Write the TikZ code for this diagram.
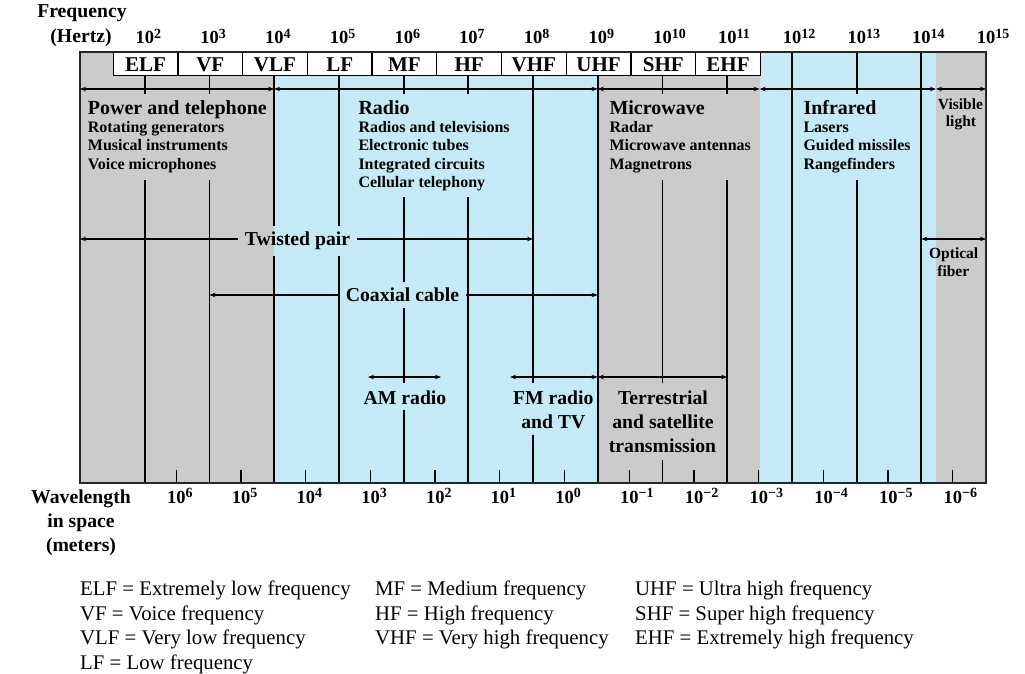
\documentclass[tikz,border=0pt]{standalone}
\usepackage{fontspec}
\setmainfont{Liberation Serif}
\usetikzlibrary{arrows.meta}
\definecolor{bgray}{RGB}{203,203,203}
\definecolor{bblue}{RGB}{198,233,248}
\newcommand\tenp[1]{10\raisebox{5.5pt}{\fontsize{14}{14}\selectfont #1}}
\begin{document}
\begin{tikzpicture}[x=1pt,y=-1pt,
 hd/.style={font=\bfseries\fontsize{20}{24}\selectfont, inner sep=0pt, anchor=base west},
 it/.style={font=\bfseries\fontsize{16}{18}\selectfont, inner sep=0pt, anchor=base west},
 num/.style={font=\bfseries\fontsize{18.5}{20}\selectfont, inner sep=0pt, anchor=base west},
 bandbox/.style={draw=black, line width=1.4pt, fill=white, font=\bfseries\fontsize{21}{24}\selectfont, minimum width=64.714pt, minimum height=23pt, inner sep=0pt, text height=13.9pt, text depth=0pt, anchor=north west},
 mid/.style={font=\bfseries\fontsize{19.7}{24}\selectfont, inner xsep=6.5pt, inner ysep=0pt, anchor=base},
 ctr/.style={font=\bfseries\fontsize{19.7}{24}\selectfont, inner sep=0pt, anchor=base},
 sm/.style={font=\bfseries\fontsize{15.5}{18}\selectfont, inner sep=0pt, anchor=base},
 leg/.style={font=\fontsize{20.8}{24}\selectfont, inner sep=0pt, anchor=base west},
 vline/.style={line width=1.8pt, black},
 tick/.style={line width=1.4pt, black},
 arr/.style={line width=1.1pt, -{Stealth[length=6pt,width=4.5pt]}},
 dbl/.style={line width=1.1pt, {Stealth[length=6pt,width=4.5pt]}-{Stealth[length=6pt,width=4.5pt]}}
]
\useasboundingbox (0,0) rectangle (1025,674);
% background bands
\fill[bgray] (80,52) rectangle (274.1,483);
\fill[bblue] (274.1,52) rectangle (597.7,483);
\fill[bgray] (597.7,52) rectangle (759.6,483);
\fill[bblue] (759.6,52) rectangle (936,483);
\fill[bgray] (936,52) rectangle (986,483);
% band boxes
\foreach \lab [count=\k, evaluate=\k as \xx using {80+(\k-1)*64.714+32.5}] in {ELF,VF,VLF,LF,MF,HF,VHF,UHF,SHF,EHF}
  \node[bandbox] (b\k) at (\xx,52) {\lab};
% decade lines
\draw[vline] (144.7,75) -- (144.7,94) (144.7,180) -- (144.7,483);
\draw[vline] (209.4,75) -- (209.4,94) (209.4,180) -- (209.4,483);
\draw[vline] (274.1,75) -- (274.1,226) (274.1,256) -- (274.1,483);
\draw[vline] (338.9,75) -- (338.9,226) (338.9,256) -- (338.9,483);
\draw[vline] (403.6,75) -- (403.6,94) (403.6,197) -- (403.6,282) (403.6,308) -- (403.6,383) (403.6,410) -- (403.6,483);
\draw[vline] (468.3,75) -- (468.3,94) (468.3,197) -- (468.3,483);
\draw[vline] (533.0,75) -- (533.0,383) (533.0,435) -- (533.0,483);
\draw[vline] (597.7,75) -- (597.7,483);
\draw[vline] (662.4,75) -- (662.4,94) (662.4,180) -- (662.4,383) (662.4,460) -- (662.4,483);
\draw[vline] (727.1,75) -- (727.1,94) (727.1,180) -- (727.1,483);
\draw[vline] (791.9,52) -- (791.9,483);
\draw[vline] (856.6,52) -- (856.6,94) (856.6,180) -- (856.6,483);
\draw[vline] (921.3,52) -- (921.3,483);
% wavelength ticks
\foreach \n [evaluate=\n as \xx using {80+(\n-1)*64.714+31.5}] in {2,...,14}
  \draw[tick] (\xx,470) -- (\xx,483);
% frame
\draw[line width=2.3pt, black!85] (80,52) rectangle (986,483);
% region arrows
\coordinate (r0) at (80,89);
\coordinate (r1) at (274.1,89);
\coordinate (r2) at (597.7,89);
\coordinate (r3) at (759.6,89);
\coordinate (r4) at (936,89);
\coordinate (r5) at (986,89);
\draw[dbl] (r0) -- (r1);
\draw[dbl] (r1) -- (r2);
\draw[dbl] (r2) -- (r3);
\draw[dbl] (r3) -- (r4);
\draw[dbl] (r4) -- (r5);
% region texts
\node[hd] (pt) at (87.7,115) {Power and telephone};
\node[it] (pt1) at (87.7,132.7) {Rotating generators};
\node[it] (pt2) at (87.7,150.7) {Musical instruments};
\node[it] (pt3) at (87.7,169) {Voice microphones};
\node[hd] (ra) at (358.3,115) {Radio};
\node[it] (ra1) at (358.3,132.7) {Radios and televisions};
\node[it] (ra2) at (358.3,150.7) {Electronic tubes};
\node[it] (ra3) at (358.3,169) {Integrated circuits};
\node[it] (ra4) at (358.3,187.3) {Cellular telephony};
\node[hd] (mw) at (609.3,115) {Microwave};
\node[it] (mw1) at (609.3,132.7) {Radar};
\node[it] (mw2) at (609.3,150.7) {Microwave antennas};
\node[it] (mw3) at (609.3,169) {Magnetrons};
\node[hd] (ir) at (803.3,115) {Infrared};
\node[it] (ir1) at (803.3,132.7) {Lasers};
\node[it] (ir2) at (803.3,150.7) {Guided missiles};
\node[it] (ir3) at (803.3,169) {Rangefinders};
\node[sm] (vl1) at (960.5,110) {Visible};
\node[sm] (vl2) at (961,127) {light};
% twisted pair
\node[mid] (tp) at (297.5,245) {Twisted pair};
\coordinate (tpA) at (80,239);
\coordinate (tpB) at (533,239);
\draw[arr] (tpA -| tp.west) -- (tpA);
\draw[arr] (tpB -| tp.east) -- (tpB);
% coaxial cable
\node[mid] (cc) at (402.5,301.7) {Coaxial cable};
\coordinate (ccA) at (209.4,295);
\coordinate (ccB) at (597.7,295);
\draw[arr] (ccA -| cc.west) -- (ccA);
\draw[arr] (ccB -| cc.east) -- (ccB);
% optical fiber
\coordinate (ofA) at (921.3,239);
\coordinate (ofB) at (986,239);
\draw[dbl] (ofA) -- (ofB);
\node[sm] (of1) at (953.7,258) {Optical};
\node[sm] (of2) at (953.3,276) {fiber};
% AM radio
\coordinate (amA) at (368,377);
\coordinate (amB) at (441,377);
\draw[dbl] (amA) -- (amB);
\node[ctr] (am) at (405,404) {AM radio};
% FM radio
\coordinate (fmA) at (510,377);
\coordinate (fmB) at (597.7,377);
\draw[dbl] (fmA) -- (fmB);
\node[ctr] (fm1) at (553.3,404) {FM radio};
\node[ctr] (fm2) at (553.3,428.5) {and TV};
% terrestrial
\coordinate (teA) at (597.7,377);
\coordinate (teB) at (727.1,377);
\draw[dbl] (teA) -- (teB);
\node[ctr] (te1) at (663,404) {Terrestrial};
\node[ctr] (te2) at (663,428.5) {and satellite};
\node[ctr] (te3) at (662.5,452.5) {transmission};
% axis titles
\node[ctr] (fq) at (82,17.5) {Frequency};
\node[ctr] (hz) at (81,43) {(Hertz)};
\node[ctr] (wl1) at (81,503) {Wavelength};
\node[ctr] (wl2) at (81,527) {in space};
\node[ctr] (wl3) at (81,551) {(meters)};
% frequency numbers
\foreach \n [evaluate=\n as \xx using {80+(\n-1)*64.714-9.25}] in {2,...,15}
  \node[num] (f\n) at (\xx,44) {\tenp{\n}};
% wavelength numbers
\foreach \n/\e [evaluate=\n as \xx using {80+(\n-1)*64.714+31.5-9.25}] in {2/6,3/5,4/4,5/3,6/2,7/1,8/0,9/−1,10/−2,11/−3,12/−4,13/−5,14/−6}
  \node[num] (w\n) at (\xx,503) {\tenp{\e}};
% legend
\node[leg] (l1) at (80,595.5) {ELF = Extremely low frequency};
\node[leg] (l2) at (80,620) {VF = Voice frequency};
\node[leg] (l3) at (80,644.5) {VLF = Very low frequency};
\node[leg] (l4) at (80,669) {LF = Low frequency};
\node[leg] (l5) at (375,595.5) {MF = Medium frequency};
\node[leg] (l6) at (375,620) {HF = High frequency};
\node[leg] (l7) at (375,644.5) {VHF = Very high frequency};
\node[leg] (l8) at (635,595.5) {UHF = Ultra high frequency};
\node[leg] (l9) at (635,620) {SHF = Super high frequency};
\node[leg] (l10) at (635,644.5) {EHF = Extremely high frequency};
\end{tikzpicture}
\end{document}
